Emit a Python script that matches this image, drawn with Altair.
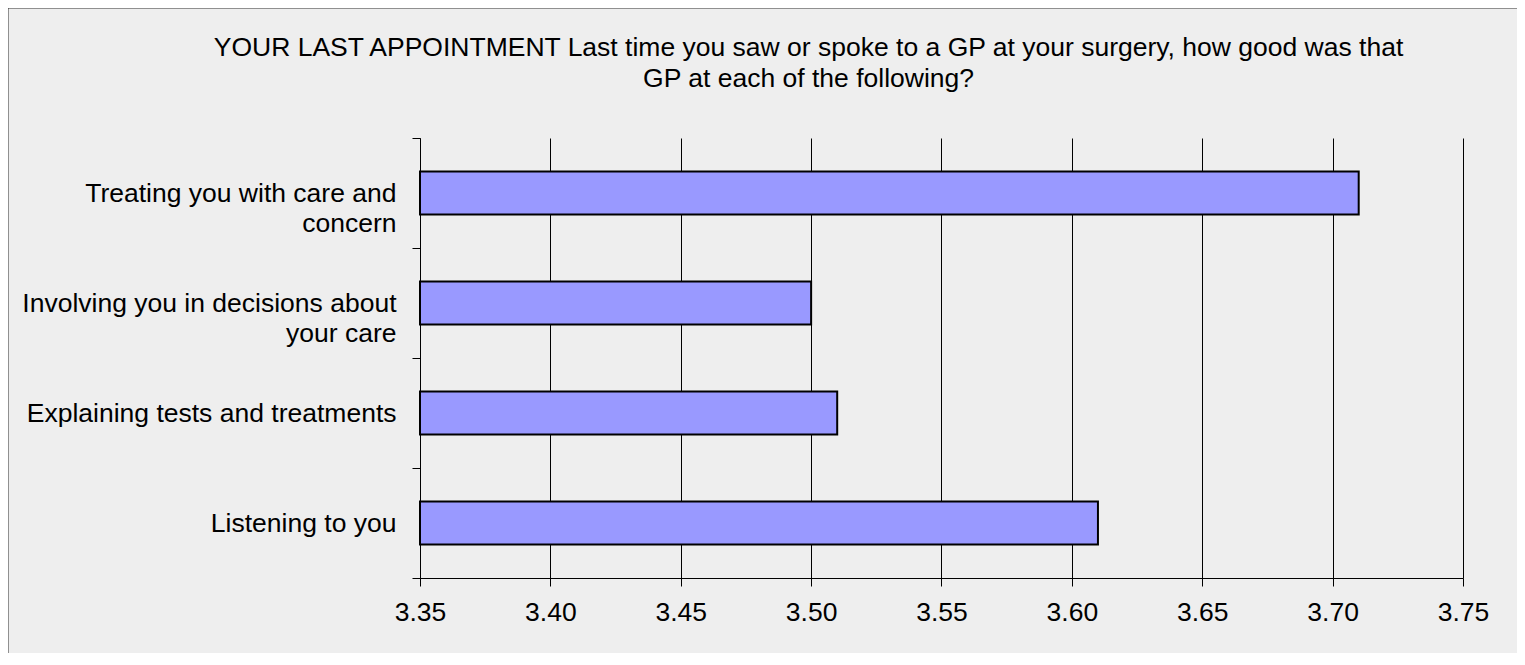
import altair as alt
import pandas as pd

# ---- data ----
categories = [
    "Treating you with care and\nconcern",
    "Involving you in decisions about\nyour care",
    "Explaining tests and treatments",
    "Listening to you",
]
scores = [3.71, 3.50, 3.51, 3.61]
x_ticks = [3.35, 3.40, 3.45, 3.50, 3.55, 3.60, 3.65, 3.70, 3.75]
x_domain = [3.35, 3.75]
title_lines = [
    "YOUR LAST APPOINTMENT Last time you saw or spoke to a GP at your surgery, how good was that",
    "GP at each of the following?",
]

FONT = "Liberation Sans"
FS = 26.5
W, H = 1043, 440
PAD = {"left": 412, "top": 130, "right": 54, "bottom": 75}

df = pd.DataFrame({"item": categories, "score": scores})

bars = alt.Chart(df).mark_bar(
    fill="#9999ff", stroke="#000000", strokeWidth=2, height=alt.RelativeBandSize(0.39)
).encode(
    y=alt.Y(
        "item:N",
        sort=categories,
        scale=alt.Scale(paddingInner=0, paddingOuter=0),
        axis=alt.Axis(
            title=None,
            labelExpr="split(datum.label, '\\n')",
            labelFont=FONT,
            labelFontSize=FS,
            labelColor="#000000",
            labelLineHeight=30,
            labelPadding=16,
            labelLimit=0,
            tickBand="extent",
            tickSize=8,
            tickColor="#000000",
            domainColor="#000000",
            grid=False,
        ),
    ),
    x=alt.X(
        "score:Q",
        scale=alt.Scale(domain=x_domain, zero=False, nice=False),
        axis=alt.Axis(
            title=None,
            values=x_ticks,
            format=".2f",
            labelFont=FONT,
            labelFontSize=FS,
            labelColor="#000000",
            labelPadding=13,
            labelFlush=False,
            tickSize=8,
            tickColor="#000000",
            domainColor="#000000",
            grid=True,
            gridColor="#000000",
            gridOpacity=1,
            gridWidth=1,
        ),
    ),
    x2=alt.datum(x_domain[0]),
)

frame_src = alt.Chart(pd.DataFrame({"k": [0]}))
top_border = frame_src.mark_rule(color="#333333", strokeWidth=1).encode(
    x=alt.value(-PAD["left"]), x2=alt.value(W + PAD["right"]), y=alt.value(-PAD["top"])
)
left_border = frame_src.mark_rule(color="#333333", strokeWidth=1).encode(
    x=alt.value(-PAD["left"]), y=alt.value(-PAD["top"]), y2=alt.value(H + PAD["bottom"])
)

chart = (
    alt.layer(bars, top_border, left_border)
    .properties(
        width=W,
        height=H,
        padding=PAD,
        autosize=alt.AutoSizeParams(type="none"),
        background="#eeeeee",
        title=alt.TitleParams(
            title_lines,
            font=FONT,
            fontSize=FS,
            fontWeight="normal",
            color="#000000",
            anchor="middle",
            dx=-133,
            offset=-85,
            lineHeight=31,
        ),
    )
    .configure_view(stroke=None)
)

chart.save("out.html", embed_options={"renderer": "svg", "actions": False})
